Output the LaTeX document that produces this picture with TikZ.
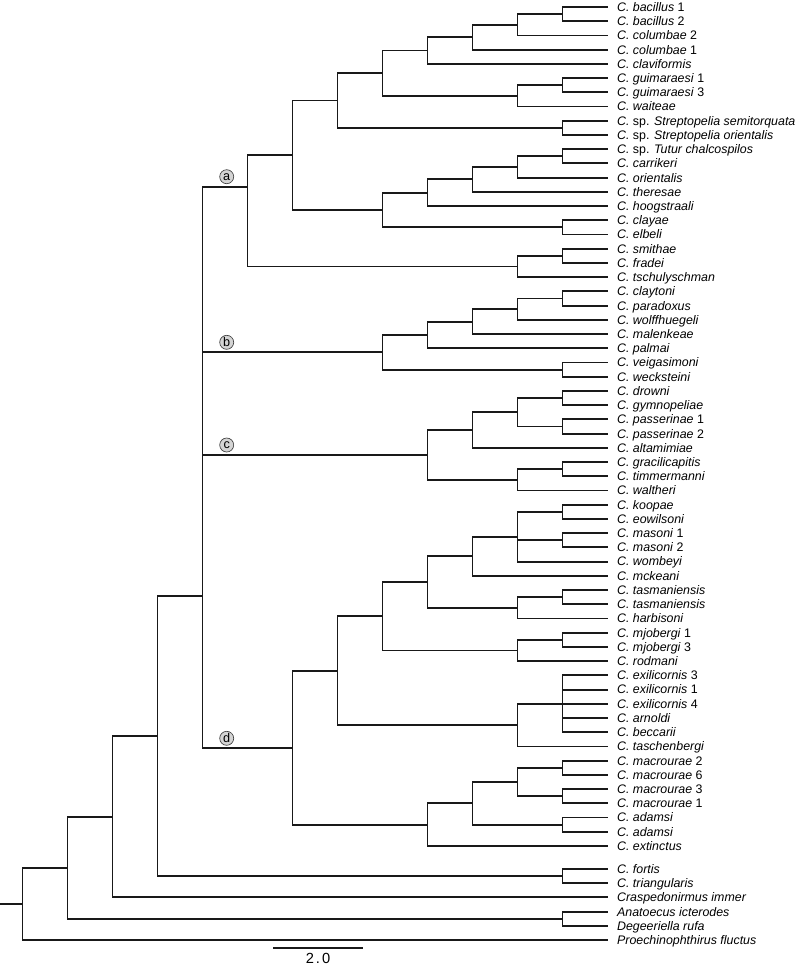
\documentclass[tikz,border=0pt]{standalone}
\usepackage{fontspec}
\setmainfont{Liberation Sans}
\newfontfamily\barfont[LetterSpace=14]{Liberation Sans}
\newcommand\mkleaf[3]{\coordinate (#1) at (607.5,#2); \node[leaf] (#1t) at (#1) {#3};}
\newcommand\mkedges[2]{\foreach \ch in {#2} {\draw[edge] (#1) |- (\ch);}}
\begin{document}
\begin{tikzpicture}[x=0.75pt,y=-0.75pt,
  edge/.style={line width=1.4pt, draw=black!90},
  leaf/.style={anchor=west, xshift=7pt, inner sep=0pt, text height=6.6pt, text depth=0pt, font=\fontsize{9.3}{10}\selectfont},
  clade/.style={circle, draw=black!75, line width=0.5pt, fill=black!17, inner sep=0pt, minimum size=10.5pt, font=\fontsize{9.5}{10}\selectfont}]
\useasboundingbox (0,0) rectangle (799,965);
% leaves
\mkleaf{L1}{7.00}{\textit{C. bacillus} 1}
\mkleaf{L2}{21.22}{\textit{C. bacillus} 2}
\mkleaf{L3}{35.44}{\textit{C. columbae} 2}
\mkleaf{L4}{49.66}{\textit{C. columbae} 1}
\mkleaf{L5}{63.88}{\textit{C. claviformis}}
\mkleaf{L6}{78.10}{\textit{C. guimaraesi} 1}
\mkleaf{L7}{92.32}{\textit{C. guimaraesi} 3}
\mkleaf{L8}{106.54}{\textit{C. waiteae}}
\mkleaf{L9}{120.76}{\textit{C.} sp. \textit{Streptopelia semitorquata}}
\mkleaf{L10}{134.98}{\textit{C.} sp. \textit{Streptopelia orientalis}}
\mkleaf{L11}{149.20}{\textit{C.} sp. \textit{Tutur chalcospilos}}
\mkleaf{L12}{163.42}{\textit{C. carrikeri}}
\mkleaf{L13}{177.64}{\textit{C. orientalis}}
\mkleaf{L14}{191.86}{\textit{C. theresae}}
\mkleaf{L15}{206.08}{\textit{C. hoogstraali}}
\mkleaf{L16}{220.30}{\textit{C. clayae}}
\mkleaf{L17}{234.52}{\textit{C. elbeli}}
\mkleaf{L18}{248.74}{\textit{C. smithae}}
\mkleaf{L19}{262.96}{\textit{C. fradei}}
\mkleaf{L20}{277.18}{\textit{C. tschulyschman}}
\mkleaf{L21}{291.40}{\textit{C. claytoni}}
\mkleaf{L22}{305.62}{\textit{C. paradoxus}}
\mkleaf{L23}{319.84}{\textit{C. wolffhuegeli}}
\mkleaf{L24}{334.06}{\textit{C. malenkeae}}
\mkleaf{L25}{348.28}{\textit{C. palmai}}
\mkleaf{L26}{362.50}{\textit{C. veigasimoni}}
\mkleaf{L27}{376.72}{\textit{C. wecksteini}}
\mkleaf{L28}{390.94}{\textit{C. drowni}}
\mkleaf{L29}{405.16}{\textit{C. gymnopeliae}}
\mkleaf{L30}{419.38}{\textit{C. passerinae} 1}
\mkleaf{L31}{433.60}{\textit{C. passerinae} 2}
\mkleaf{L32}{447.82}{\textit{C. altamimiae}}
\mkleaf{L33}{462.04}{\textit{C. gracilicapitis}}
\mkleaf{L34}{476.26}{\textit{C. timmermanni}}
\mkleaf{L35}{490.48}{\textit{C. waltheri}}
\mkleaf{L36}{504.70}{\textit{C. koopae}}
\mkleaf{L37}{518.92}{\textit{C. eowilsoni}}
\mkleaf{L38}{533.14}{\textit{C. masoni} 1}
\mkleaf{L39}{547.36}{\textit{C. masoni} 2}
\mkleaf{L40}{561.58}{\textit{C. wombeyi}}
\mkleaf{L41}{575.80}{\textit{C. mckeani}}
\mkleaf{L42}{590.02}{\textit{C. tasmaniensis}}
\mkleaf{L43}{604.24}{\textit{C. tasmaniensis}}
\mkleaf{L44}{618.46}{\textit{C. harbisoni}}
\mkleaf{L45}{632.68}{\textit{C. mjobergi} 1}
\mkleaf{L46}{646.90}{\textit{C. mjobergi} 3}
\mkleaf{L47}{661.12}{\textit{C. rodmani}}
\mkleaf{L48}{675.34}{\textit{C. exilicornis} 3}
\mkleaf{L49}{689.56}{\textit{C. exilicornis} 1}
\mkleaf{L50}{703.78}{\textit{C. exilicornis} 4}
\mkleaf{L51}{718.00}{\textit{C. arnoldi}}
\mkleaf{L52}{732.22}{\textit{C. beccarii}}
\mkleaf{L53}{746.44}{\textit{C. taschenbergi}}
\mkleaf{L54}{760.66}{\textit{C. macrourae} 2}
\mkleaf{L55}{774.88}{\textit{C. macrourae} 6}
\mkleaf{L56}{789.10}{\textit{C. macrourae} 3}
\mkleaf{L57}{803.32}{\textit{C. macrourae} 1}
\mkleaf{L58}{817.54}{\textit{C. adamsi}}
\mkleaf{L59}{831.76}{\textit{C. adamsi}}
\mkleaf{L60}{845.98}{\textit{C. extinctus}}
\mkleaf{L61}{869.00}{\textit{C. fortis}}
\mkleaf{L62}{883.20}{\textit{C. triangularis}}
\mkleaf{L63}{897.40}{\textit{Craspedonirmus immer}}
\mkleaf{L64}{911.60}{\textit{Anatoecus icterodes}}
\mkleaf{L65}{925.80}{\textit{Degeeriella rufa}}
\mkleaf{L66}{940.00}{\textit{Proechinophthirus fluctus}}
% internal nodes: clade a
\coordinate (a12) at (562.5,14.11);
\coordinate (a11) at (517.5,24.78);
\coordinate (a10) at (472.5,37.22);
\coordinate (a9) at (427.5,50.55);
\coordinate (g12) at (562.5,85.21);
\coordinate (g11) at (517.5,95.88);
\coordinate (a8) at (382.5,73.21);
\coordinate (s12) at (562.5,127.87);
\coordinate (a7) at (337.5,100.54);
\coordinate (t12) at (562.5,156.31);
\coordinate (t11) at (517.5,166.98);
\coordinate (t10) at (472.5,179.42);
\coordinate (t9) at (427.5,192.75);
\coordinate (c12) at (562.5,227.41);
\coordinate (t8) at (382.5,210.08);
\coordinate (a6) at (292.5,155.31);
\coordinate (sm12) at (562.5,255.85);
\coordinate (sm11) at (517.5,266.52);
\coordinate (A) at (247.5,187.0);
% clade b
\coordinate (b12) at (562.5,298.51);
\coordinate (b11) at (517.5,309.18);
\coordinate (b10) at (472.5,321.62);
\coordinate (b9) at (427.5,334.95);
\coordinate (v12) at (562.5,369.61);
\coordinate (B) at (382.5,352.28);
% clade c
\coordinate (d12) at (562.5,398.05);
\coordinate (p12) at (562.5,426.49);
\coordinate (c11) at (517.5,412.27);
\coordinate (c10) at (472.5,430.05);
\coordinate (gr12) at (562.5,469.15);
\coordinate (gr11) at (517.5,479.82);
\coordinate (C) at (427.5,454.93);
% clade d
\coordinate (ko12) at (562.5,511.81);
\coordinate (ma12) at (562.5,540.25);
\coordinate (ko11) at (517.5,536.70);
\coordinate (ko10) at (472.5,556.25);
\coordinate (ta12) at (562.5,597.13);
\coordinate (ta11) at (517.5,607.80);
\coordinate (ko9) at (427.5,582.02);
\coordinate (mj12) at (562.5,639.79);
\coordinate (mj11) at (517.5,650.46);
\coordinate (ko8) at (382.5,616.24);
\coordinate (ex12) at (562.5,703.78);
\coordinate (ex11) at (517.5,725.11);
\coordinate (d7) at (337.5,670.68);
\coordinate (mc12a) at (562.5,767.77);
\coordinate (mc12b) at (562.5,796.21);
\coordinate (mc11) at (517.5,781.99);
\coordinate (ad12) at (562.5,824.65);
\coordinate (mc10) at (472.5,803.32);
\coordinate (mc9) at (427.5,824.65);
\coordinate (D) at (292.5,747.66);
% backbone
\coordinate (M) at (202.5,596.0);
\coordinate (ft12) at (562.5,876.10);
\coordinate (n3) at (157.5,736.05);
\coordinate (n2) at (112.5,816.72);
\coordinate (ag12) at (562.5,918.70);
\coordinate (n1) at (67.5,867.71);
\coordinate (R) at (22.5,903.85);
\coordinate (R0) at (0,903.85);
% edges
\mkedges{a12}{L1,L2}
\mkedges{a11}{a12,L3}
\mkedges{a10}{a11,L4}
\mkedges{a9}{a10,L5}
\mkedges{g12}{L6,L7}
\mkedges{g11}{g12,L8}
\mkedges{a8}{a9,g11}
\mkedges{s12}{L9,L10}
\mkedges{a7}{a8,s12}
\mkedges{t12}{L11,L12}
\mkedges{t11}{t12,L13}
\mkedges{t10}{t11,L14}
\mkedges{t9}{t10,L15}
\mkedges{c12}{L16,L17}
\mkedges{t8}{t9,c12}
\mkedges{a6}{a7,t8}
\mkedges{sm12}{L18,L19}
\mkedges{sm11}{sm12,L20}
\mkedges{A}{a6,sm11}
\mkedges{b12}{L21,L22}
\mkedges{b11}{b12,L23}
\mkedges{b10}{b11,L24}
\mkedges{b9}{b10,L25}
\mkedges{v12}{L26,L27}
\mkedges{B}{b9,v12}
\mkedges{d12}{L28,L29}
\mkedges{p12}{L30,L31}
\mkedges{c11}{d12,p12}
\mkedges{c10}{c11,L32}
\mkedges{gr12}{L33,L34}
\mkedges{gr11}{gr12,L35}
\mkedges{C}{c10,gr11}
\mkedges{ko12}{L36,L37}
\mkedges{ma12}{L38,L39}
\mkedges{ko11}{ko12,ma12,L40}
\mkedges{ko10}{ko11,L41}
\mkedges{ta12}{L42,L43}
\mkedges{ta11}{ta12,L44}
\mkedges{ko9}{ko10,ta11}
\mkedges{mj12}{L45,L46}
\mkedges{mj11}{mj12,L47}
\mkedges{ko8}{ko9,mj11}
\mkedges{ex12}{L48,L49,L50,L51,L52}
\mkedges{ex11}{ex12,L53}
\mkedges{d7}{ko8,ex11}
\mkedges{mc12a}{L54,L55}
\mkedges{mc12b}{L56,L57}
\mkedges{mc11}{mc12a,mc12b}
\mkedges{ad12}{L58,L59}
\mkedges{mc10}{mc11,ad12}
\mkedges{mc9}{mc10,L60}
\mkedges{D}{d7,mc9}
\mkedges{M}{A,B,C,D}
\mkedges{ft12}{L61,L62}
\mkedges{n3}{M,ft12}
\mkedges{n2}{n3,L63}
\mkedges{ag12}{L64,L65}
\mkedges{n1}{n2,ag12}
\mkedges{R}{n1,L66}
\draw[edge] (R0) -- (R);
% clade labels
\node[clade] (la) at (226.7,176.7) {a};
\node[clade] (lb) at (226.7,342.3) {b};
\node[clade] (lc) at (226.7,445.0) {c};
\node[clade] (ld) at (226.7,738.3) {d};
% scale bar
\coordinate (s1) at (273,947.7);
\coordinate (s2) at (363,947.7);
\draw[edge] (s1) -- (s2);
\node[inner sep=0pt, font=\barfont\fontsize{11}{12}\selectfont] (sl) at (318,958.3) {2.0};
\end{tikzpicture}
\end{document}
